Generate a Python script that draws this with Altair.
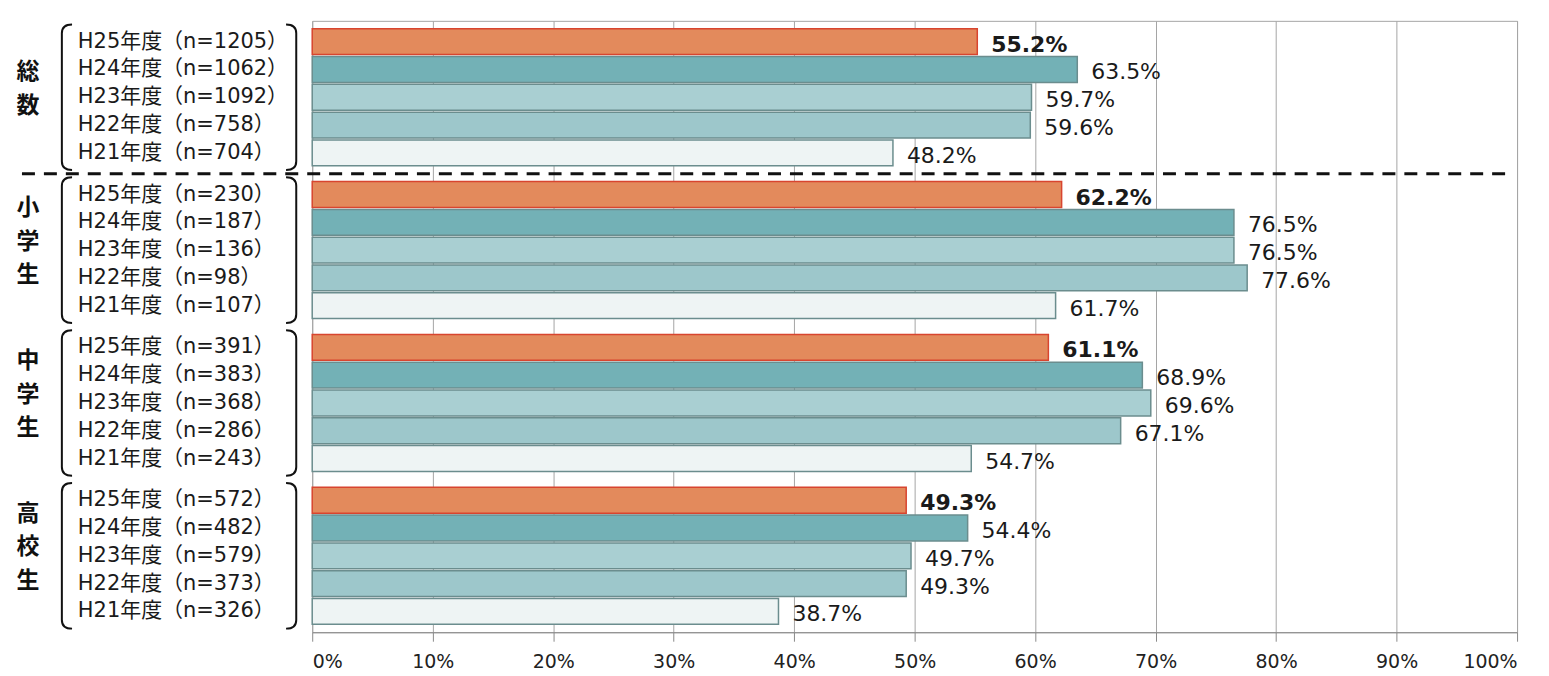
import altair as alt
import pandas as pd

groups = ["総数", "小学生", "中学生", "高校生"]
years = ["H25年度", "H24年度", "H23年度", "H22年度", "H21年度"]
n_counts = [
    [1205, 1062, 1092, 758, 704],
    [230, 187, 136, 98, 107],
    [391, 383, 368, 286, 243],
    [572, 482, 579, 373, 326],
]
percents = [
    [55.2, 63.5, 59.7, 59.6, 48.2],
    [62.2, 76.5, 76.5, 77.6, 61.7],
    [61.1, 68.9, 69.6, 67.1, 54.7],
    [49.3, 54.4, 49.7, 49.3, 38.7],
]
x_ticks = list(range(0, 101, 10))

fills = ["#E38A5C", "#73B1B6", "#A9CFD2", "#9DC7CB", "#EEF4F4"]
strokes = ["#D8452F", "#6B8D8E", "#6B8D8E", "#6B8D8E", "#6B8D8E"]

GROUP_SPAN = 5.5
rows = []
for gi, g in enumerate(groups):
    for yi, yr in enumerate(years):
        c = gi * GROUP_SPAN + yi + 0.75
        rows.append({
            "group": g, "year": yr, "gi": gi, "yi": yi,
            "pct": percents[gi][yi],
            "label": f"{percents[gi][yi]:.1f}%",
            "rowlabel": f"{yr}（n={n_counts[gi][yi]}）",
            "center": c, "top": c - 0.465, "bot": c + 0.465,
        })
df = pd.DataFrame(rows)

gdf = pd.DataFrame({
    "group": groups,
    "gcenter": [i * GROUP_SPAN + GROUP_SPAN / 2 for i in range(len(groups))],
})

# vertical group titles: one character per line
chars = []
for gi, g in enumerate(groups):
    n = len(g)
    for k, ch in enumerate(g):
        chars.append({"ch": ch,
                      "cy": gi * GROUP_SPAN + GROUP_SPAN / 2 - 0.3 + (k - (n - 1) / 2) * 1.2})
cdf = pd.DataFrame(chars)

bounds = [i * GROUP_SPAN for i in range(len(groups) + 1)]

FONT = "DejaVu Sans, Noto Sans CJK JP"
CJK = "Noto Sans CJK JP"
yscale = alt.Scale(domain=[0, len(groups) * GROUP_SPAN], reverse=True, nice=False, zero=False)
xscale = alt.Scale(domain=[0, 100], nice=False)

base = alt.Chart(df)

bars = base.mark_bar(strokeWidth=1.5).encode(
    x=alt.X("pct:Q", scale=xscale, axis=alt.Axis(
        values=x_ticks, labelExpr="datum.value + '%'", title=None,
        grid=True, gridColor="#A5A5A5", gridWidth=1,
        domainColor="#8A8A8A", tickColor="#8A8A8A", tickSize=9,
        labelFont=FONT, labelFontSize=19, labelColor="#222", labelPadding=11)),
    x2=alt.datum(0),
    y=alt.Y("top:Q", scale=yscale, axis=alt.Axis(
        values=bounds, labels=False, grid=False, title=None,
        domainColor="#8A8A8A", tickColor="#8A8A8A", tickSize=8)),
    y2="bot:Q",
    fill=alt.Fill("year:N", scale=alt.Scale(domain=years, range=fills), legend=None),
    stroke=alt.Stroke("year:N", scale=alt.Scale(domain=years, range=strokes), legend=None),
)

values_bold = base.transform_filter("datum.yi == 0").mark_text(
    align="left", baseline="middle", dx=14, dy=3,
    font=FONT, fontSize=22, fontWeight="bold", color="#1a1a1a").encode(
    x=alt.X("pct:Q", scale=xscale),
    y=alt.Y("center:Q", scale=yscale, axis=None),
    text="label:N",
)
values_norm = base.transform_filter("datum.yi != 0").mark_text(
    align="left", baseline="middle", dx=14, dy=3,
    font=FONT, fontSize=22, color="#1a1a1a").encode(
    x=alt.X("pct:Q", scale=xscale),
    y=alt.Y("center:Q", scale=yscale, axis=None),
    text="label:N",
)

rowlabels = base.mark_text(align="left", baseline="middle", font=FONT, fontSize=21,
                           color="#1a1a1a").encode(
    x=alt.value(-235),
    y=alt.Y("center:Q", scale=yscale, axis=None),
    text="rowlabel:N",
)

glabels = alt.Chart(cdf).mark_text(align="center", baseline="middle", font=CJK, fontSize=23,
                                   fontWeight="bold", color="#111").encode(
    x=alt.value(-285),
    y=alt.Y("cy:Q", scale=yscale, axis=None),
    text="ch:N",
)

gbase = alt.Chart(gdf)
left_path = "M 0.14 -1 C 0.04 -1 0 -0.96 0 -0.88 L 0 0.88 C 0 0.96 0.04 1 0.14 1"
right_path = "M -0.14 -1 C -0.04 -1 0 -0.96 0 -0.88 L 0 0.88 C 0 0.96 -0.04 1 -0.14 1"
lbr = gbase.mark_point(shape=left_path, filled=False, size=146 * 146, strokeWidth=2,
                       color="#111", opacity=1).encode(
    x=alt.value(-251),
    y=alt.Y("gcenter:Q", scale=yscale, axis=None),
)
rbr = gbase.mark_point(shape=right_path, filled=False, size=146 * 146, strokeWidth=2,
                       color="#111", opacity=1).encode(
    x=alt.value(-16),
    y=alt.Y("gcenter:Q", scale=yscale, axis=None),
)

dash = alt.Chart(pd.DataFrame({"b": [GROUP_SPAN]})).mark_rule(
    color="#111", strokeWidth=3, strokeDash=[13, 9]).encode(
    x=alt.value(-291),
    x2=alt.value(1200),
    y=alt.Y("b:Q", scale=yscale, axis=None),
)

chart = alt.layer(bars, values_bold, values_norm, rowlabels, glabels, lbr, rbr, dash).properties(
    width=1208, height=613,
    autosize=alt.AutoSizeParams(type="none"),
    padding={"left": 305, "top": 12, "right": 24, "bottom": 40},
    background="white",
).configure_view(stroke="#A5A5A5", strokeWidth=1)

chart.save("out.html", embed_options={"renderer": "svg", "actions": False})
